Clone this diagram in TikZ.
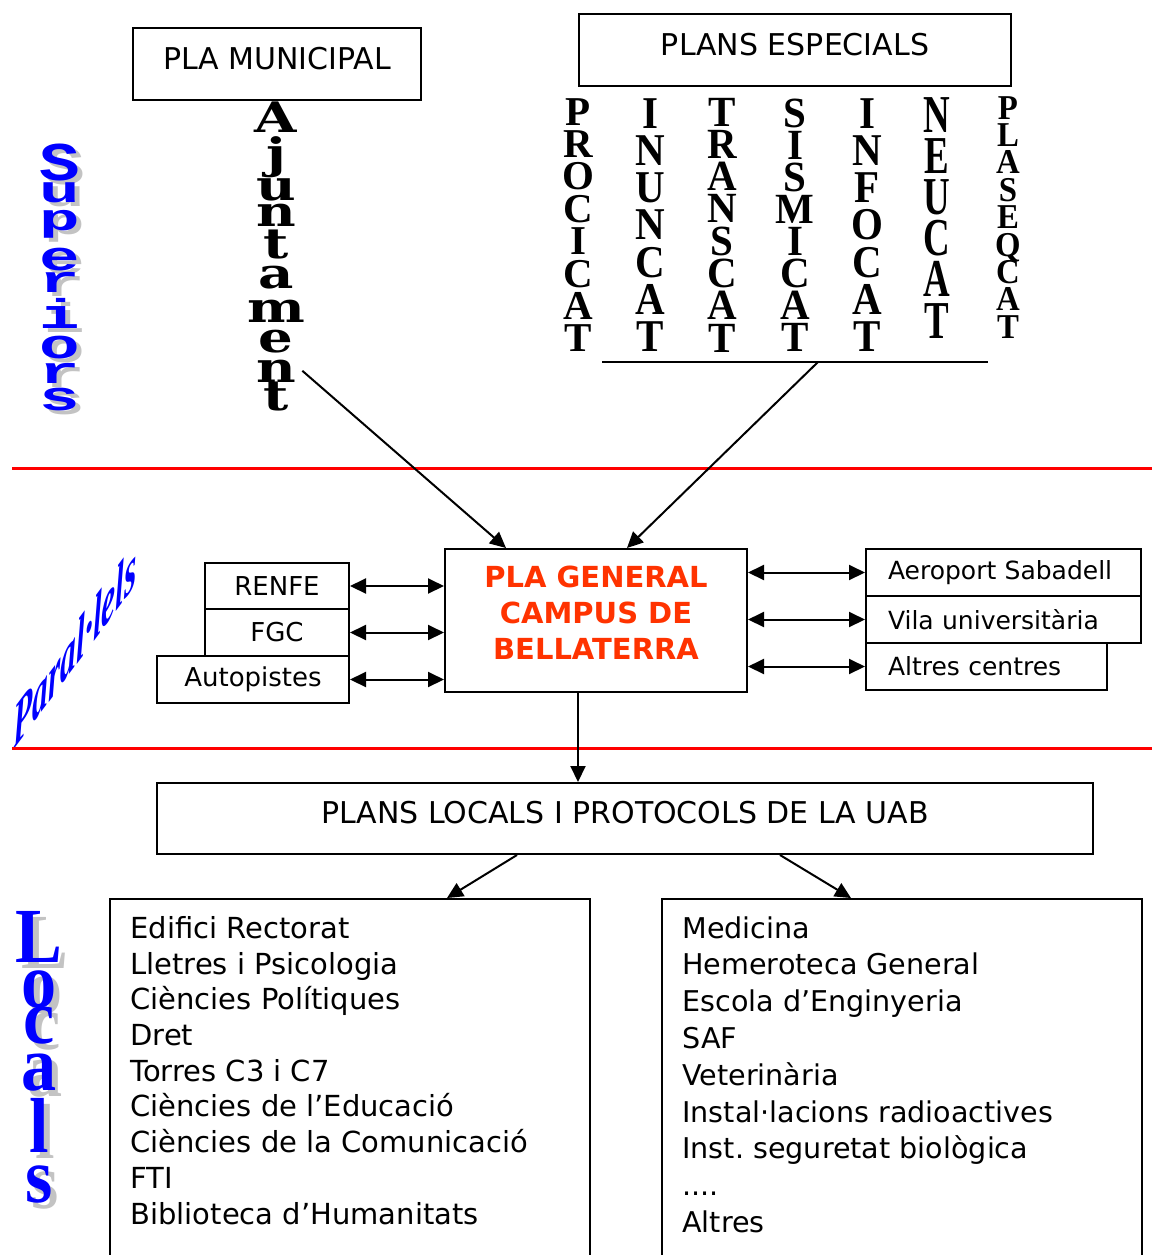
\documentclass[tikz,border=0pt]{standalone}
\usepackage{fontspec}
\setmainfont{DejaVu Sans}
\newfontfamily\acrfont{Liberation Serif}
\newfontfamily\ajfont{DejaVu Serif}
\newfontfamily\supfont{Liberation Mono}
\usetikzlibrary{arrows.meta}
\frenchspacing

\definecolor{campus}{RGB}{255,51,0}
\definecolor{wordblue}{RGB}{0,0,255}
\definecolor{shade}{RGB}{195,195,195}

\tikzset{
  box/.style={draw, line width=1pt, inner sep=0pt},
  lbl/.style={font=\fontsize{15}{18}\selectfont},
  sbox/.style={font=\fontsize{13}{15}\selectfont},
  rbox/.style={font=\fontsize{12.5}{14}\selectfont, align=left},
  listtxt/.style={inner sep=0pt, align=left},
  gentxt/.style={font=\bfseries\fontsize{14.5}{18}\selectfont, text=campus, align=center, inner sep=0pt},
  arr/.style={-{Triangle[length=8pt,width=7.5pt]}, line width=1pt},
  darr/.style={{Triangle[length=8pt,width=7.5pt]}-{Triangle[length=8pt,width=7.5pt]}, line width=1pt},
  sep/.style={red, line width=1.5pt},
  acr/.style={font=\acrfont\bfseries\fontsize{20.5}{20.5}\selectfont, inner sep=0pt},
  ajl/.style={font=\ajfont\bfseries\fontsize{21}{21}\selectfont, inner sep=0pt, xscale=1.3},
  supl/.style={font=\supfont\bfseries\fontsize{26}{26}\selectfont, inner sep=0pt, xscale=1.3},
  locl/.style={font=\acrfont\bfseries\fontsize{39}{39}\selectfont, inner sep=0pt, xscale=0.9}
}

% one letter under the other: name, x, first baseline, pitch, extra options, letters
\newcommand\stackword[6]{%
  \foreach \ch [count=\i] in {#6}
    \node[acr, #5, anchor=base] (#1-\i) at (#2, {#3+(\i-1)*#4}) {\ch};
}

\begin{document}
\begin{tikzpicture}[x=0.5pt, y=-0.5pt]
    \useasboundingbox (0,0) rectangle (1152,1255);
    \clip (0,0) rectangle (1152,1255);

    % superiors
    \node[box, lbl, minimum width=144pt, minimum height=36pt, text depth=6pt] (muni) at (277,64) {PLA MUNICIPAL};
    \node[box, lbl, minimum width=216pt, minimum height=36pt, text depth=6pt] (esp) at (795,50) {PLANS ESPECIALS};

    \foreach \ch/\yb [count=\i] in {A/132,j/168,u/200,n/226,t/258,a/288,m/322,e/352,n/382,t/410}
        \node[ajl, anchor=base] (aj-\i) at (276,\yb) {\ch};

    \stackword{pro}{578}{125}{32.4}{}{P,R,O,C,I,C,A,T}
    \stackword{inu}{650}{128}{37.3}{yscale=1.11}{I,N,U,N,C,A,T}
    \stackword{tra}{722}{126}{32.3}{yscale=1.05}{T,R,A,N,S,C,A,T}
    \stackword{sis}{795}{127}{32.1}{yscale=1.05}{S,I,S,M,I,C,A,T}
    \stackword{inf}{867}{128}{37.3}{yscale=1.11}{I,N,F,O,C,A,T}
    \stackword{neu}{937}{132}{41.2}{xscale=0.9,yscale=1.3}{N,E,U,C,A,T}
    \stackword{pla}{1008}{119}{27.4}{xscale=0.8,yscale=0.85}{P,L,A,S,E,Q,C,A,T}

    \coordinate (bar-l) at (602,362);
    \coordinate (bar-r) at (988,362);
    \coordinate (bar-m) at (818,362);
    \draw[line width=0.8pt] (bar-l) -- (bar-r);

    \foreach \ch/\yb/\ys [count=\i] in {S/180/1.05,u/202/0.72,p/230/0.72,e/270/0.8,r/292/0.72,i/328/0.8,o/358/0.8,r/383/0.72,s/410/0.8} {
        \node[supl, yscale=\ys, text=shade, anchor=base] (supsh-\i) at (65,\yb+4) {\ch};
        \node[supl, yscale=\ys, text=wordblue, anchor=base] (sup-\i) at (60,\yb) {\ch};
    }

    \draw[sep] (12,468) -- (1152,468);

    % parallels
    \node[box, minimum width=151pt, minimum height=71.5pt] (gen) at (596,620.5) {};
    \node[gentxt] (gtxt) at ([yshift=3.75pt]gen.center) {PLA GENERAL\\CAMPUS DE\\BELLATERRA};

    \node[box, sbox, minimum width=72pt, minimum height=23pt] (renfe) at (277,586) {RENFE};
    \node[box, sbox, minimum width=72pt, minimum height=23.5pt] (fgc) at (277,632.5) {FGC};
    \node[box, sbox, minimum width=96pt, minimum height=23.5pt] (autop) at (253,679.5) {Autopistes};

    \node[box, rbox, minimum width=137.5pt, minimum height=23.5pt, text width=115.5pt] (aero) at (1003.5,572.5) {Aeroport Sabadell};
    \node[box, rbox, minimum width=137.5pt, minimum height=23.5pt, text width=115.5pt] (vila) at (1003.5,619.5) {Vila universitària};
    \node[box, rbox, minimum width=120.5pt, minimum height=23.5pt, text width=98.5pt] (altr) at (986.5,666.5) {Altres centres};

    \node[font=\acrfont\bfseries\itshape\fontsize{31}{31}\selectfont, text=wordblue, inner sep=0pt,
          yslant=1.35, xscale=0.51] (par) at (75,646) {Paral·lels};

    \draw[arr] ([xshift=3pt]aj-9.east) -- ([xshift=31pt]gen.north west);
    \draw[arr] (bar-m) -- ([xshift=91.5pt]gen.north west);

    \draw[darr] (renfe.east) -- (renfe.east -| gen.west);
    \draw[darr] (fgc.east) -- (fgc.east -| gen.west);
    \draw[darr] (autop.east) -- (autop.east -| gen.west);
    \draw[darr] (gen.east |- aero.west) -- (aero.west);
    \draw[darr] (gen.east |- vila.west) -- (vila.west);
    \draw[darr] (gen.east |- altr.west) -- (altr.west);

    \draw[sep] (12,748) -- (1152,748);

    % locals
    \node[box, lbl, minimum width=468pt, minimum height=35.5pt, text depth=6pt] (locp) at (625,818.5) {PLANS LOCALS I PROTOCOLS DE LA UAB};
    \draw[arr] ([xshift=67pt]gen.south west) -- ([xshift=67pt]gen.south west |- locp.north);

    \node[box, minimum width=240pt, minimum height=190pt, anchor=north west] (llist) at (109,898) {};
    \node[box, minimum width=240pt, minimum height=190pt, anchor=north west] (rlist) at (661,898) {};
    \draw[arr] ([xshift=180.5pt]locp.south west) -- ([xshift=169pt]llist.north west);
    \draw[arr] ([xshift=312pt]locp.south west) -- ([xshift=95pt]rlist.north west);

    \node[listtxt, font=\fontsize{14.5}{17.85}\selectfont, anchor=north west] (ltxt) at (130,916)
        {Edifici Rectorat\\Lletres i Psicologia\\Ciències Polítiques\\Dret\\Torres C3 i C7\\Ciències de l’Educació\\Ciències de la Comunicació\\FTI\\Biblioteca d’Humanitats};
    \node[listtxt, font=\fontsize{14.3}{18.4}\selectfont, anchor=north west] (rtxt) at (682,916)
        {Medicina\\Hemeroteca General\\Escola d’Enginyeria\\SAF\\Veterinària\\Instal·lacions radioactives\\Inst. seguretat biològica\\....\\Altres};

    \foreach \ch/\yb [count=\i] in {L/962,o/1007,c/1043,a/1090,l/1152,s/1202} {
        \node[locl, text=shade, anchor=base] (locsh-\i) at (45,\yb+6) {\ch};
        \node[locl, text=wordblue, anchor=base] (loc-\i) at (39,\yb) {\ch};
    }
\end{tikzpicture}
\end{document}
